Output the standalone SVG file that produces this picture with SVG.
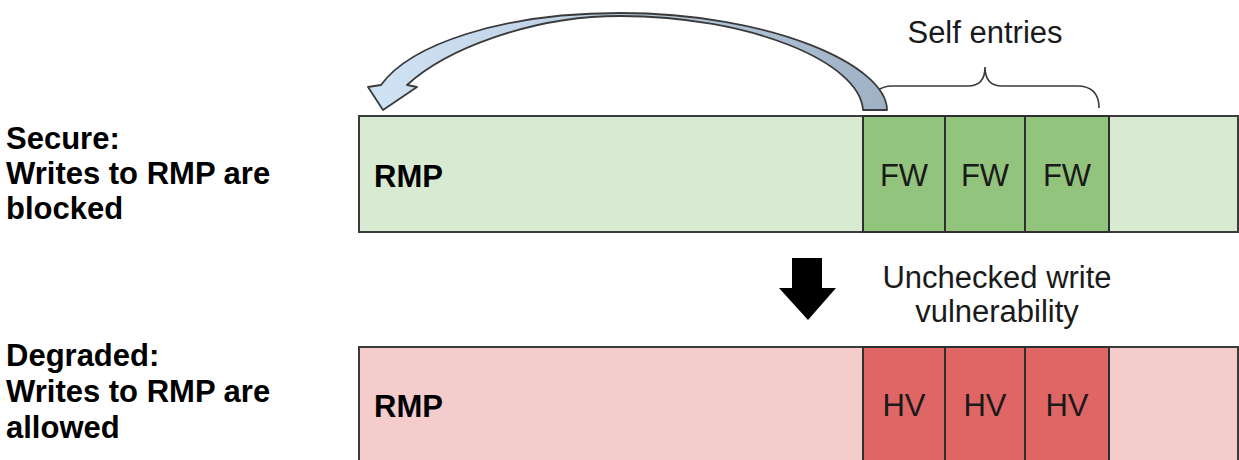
<svg xmlns="http://www.w3.org/2000/svg" width="1239" height="460" viewBox="0 0 1239 460">
<style>
.t{font-family:"Liberation Sans",Arial,sans-serif;font-size:31px;fill:#1a1a1a}
.b{font-weight:bold;fill:#000}
.c{text-anchor:middle}
.bar{stroke:#3c3c3c;stroke-width:2}
.cell{stroke:#2f2f2f;stroke-width:2}
</style>
<defs>
<linearGradient id="ag" x1="380" y1="0" x2="887" y2="0" gradientUnits="userSpaceOnUse">
<stop offset="0" stop-color="#cfe2f3"/>
<stop offset="0.45" stop-color="#bccfe2"/>
<stop offset="1" stop-color="#9fb1c5"/>
</linearGradient>
</defs>
<g id="label-secure">
<text class="t b" x="6" y="149">Secure:</text>
<text class="t b" x="6" y="184">Writes to RMP are</text>
<text class="t b" x="6" y="219">blocked</text>
</g>
<g id="label-degraded">
<text class="t b" x="6" y="366">Degraded:</text>
<text class="t b" x="6" y="402">Writes to RMP are</text>
<text class="t b" x="6" y="438">allowed</text>
</g>
<g id="secure-rmp">
<rect class="bar" x="359" y="116" width="879" height="116" fill="#d9ead3"/>
<text class="t b" x="374" y="187">RMP</text>
</g>
<g id="secure-fw1"><rect class="cell" x="863" y="116" width="82" height="116" fill="#93c47d"/><text class="t c" x="904" y="186">FW</text></g>
<g id="secure-fw2"><rect class="cell" x="945" y="116" width="80" height="116" fill="#93c47d"/><text class="t c" x="985" y="186">FW</text></g>
<g id="secure-fw3"><rect class="cell" x="1025" y="116" width="84" height="116" fill="#93c47d"/><text class="t c" x="1067" y="186">FW</text></g>
<g id="degraded-rmp">
<rect class="bar" x="359" y="347" width="879" height="116" fill="#f4cccc"/>
<text class="t b" x="374" y="417">RMP</text>
</g>
<g id="degraded-hv1"><rect class="cell" x="863" y="347" width="82" height="116" fill="#e06666"/><text class="t c" x="904" y="416">HV</text></g>
<g id="degraded-hv2"><rect class="cell" x="945" y="347" width="80" height="116" fill="#e06666"/><text class="t c" x="985" y="416">HV</text></g>
<g id="degraded-hv3"><rect class="cell" x="1025" y="347" width="84" height="116" fill="#e06666"/><text class="t c" x="1067" y="416">HV</text></g>
<g id="self-entries">
<path d="M 871 108 Q 871 86 893 86 L 968 86 Q 985 86 985 67 Q 985 86 1002 86 L 1077 86 Q 1099 86 1099 108" fill="none" stroke="#3a3a3a" stroke-width="1.6"/>
<text class="t c" x="985" y="43">Self entries</text>
</g>
<g id="vuln-label">
<text class="t c" x="997" y="288">Unchecked write</text>
<text class="t c" x="997" y="322">vulnerability</text>
</g>
<g id="connectors">
<path id="curved-arrow" d="M 887 110 C 887 65 770 13 620 13 C 500 13 410 45 381 85 L 368 87 L 383 110 L 417 87 L 407 85 C 445 50 530 16 620 16 C 750 16 860 62 863 110 Z" fill="url(#ag)" stroke="#3a3a3a" stroke-width="1.8" stroke-linejoin="round"/>
<path id="down-arrow" d="M 792 258 L 822 258 L 822 288 L 836 288 L 808 320 L 779 288 L 792 288 Z" fill="#000"/>
</g>
</svg>
